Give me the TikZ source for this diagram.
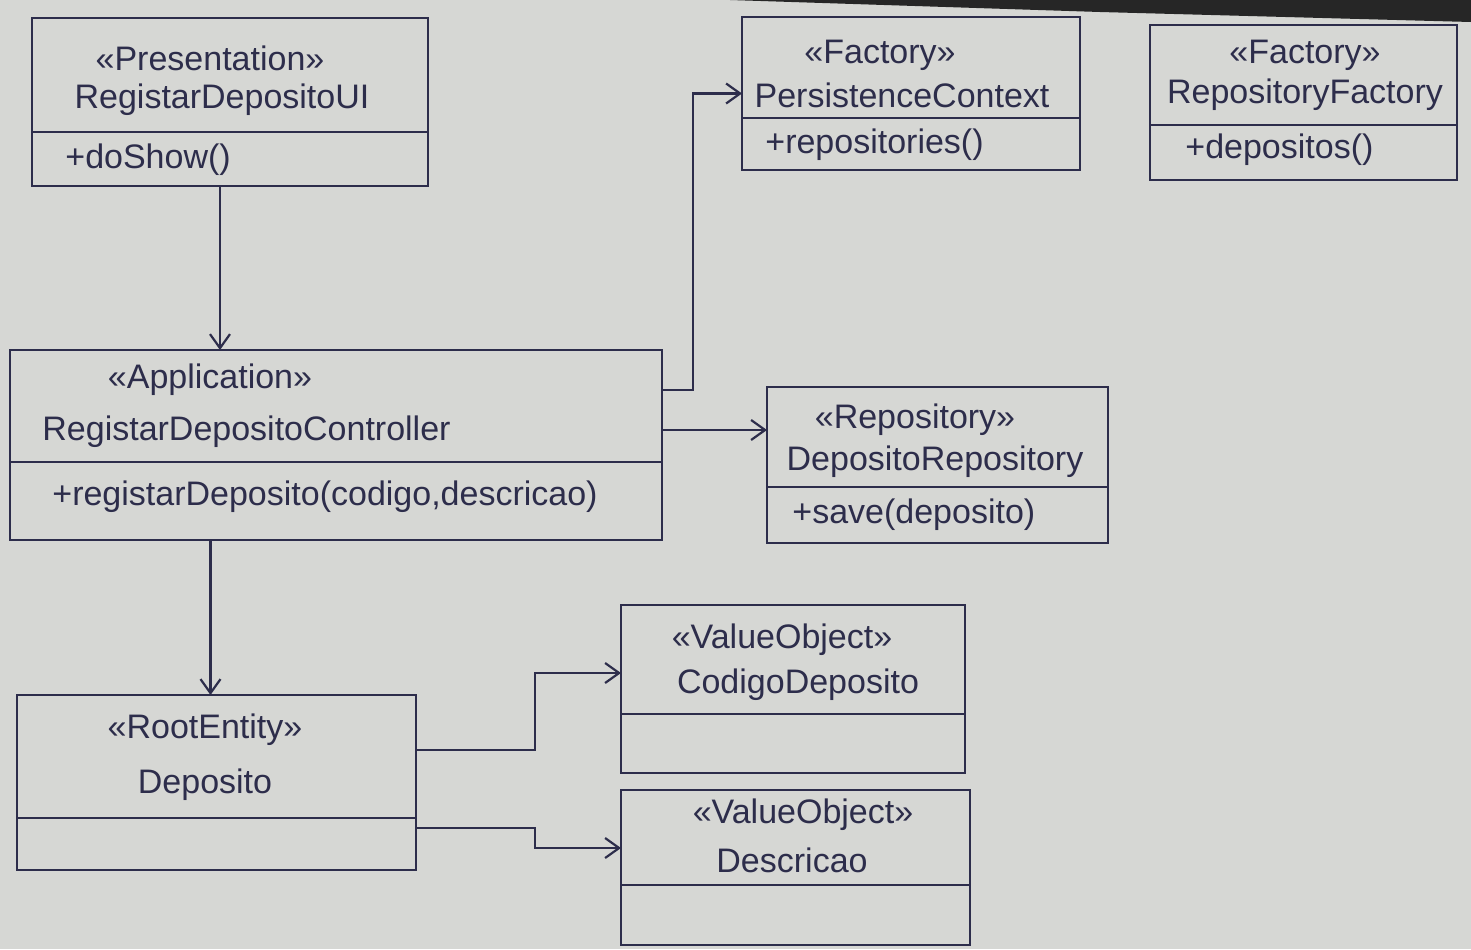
\documentclass[tikz,border=0pt]{standalone}
\usepackage{fontspec}
\setmainfont{Liberation Sans}
\usetikzlibrary{arrows.meta}
\definecolor{paper}{RGB}{214,215,212}
\definecolor{ink}{RGB}{45,45,75}
\tikzset{
  box/.style={draw=ink, line width=1.1pt, inner sep=0pt, outer sep=0pt},
  sep/.style={draw=ink, line width=1.1pt},
  conn/.style={draw=ink, line width=1.1pt, -{Straight Barb[length=7pt,width=10pt]}},
  txt/.style={text=ink, font=\fontsize{17}{20}\selectfont, inner sep=0pt},
}
\begin{document}
\begin{tikzpicture}[x=0.5pt,y=-0.5pt]
\fill[paper] (0,0) rectangle (1471,949);
\useasboundingbox (0,0) rectangle (1471,949);
\fill[black!85] (730,0) -- (1471,0) -- (1471,22) -- (1100,12) -- cycle;

% boxes
\node[box, minimum width=198pt, minimum height=84pt] (ui) at (230,102) {};
\node[box, minimum width=169pt, minimum height=76.5pt] (pc) at (911,93.5) {};
\node[box, minimum width=153.5pt, minimum height=77.5pt] (rf) at (1303.5,102.5) {};
\node[box, minimum width=326pt, minimum height=95pt] (ctrl) at (336,445) {};
\node[box, minimum width=170.5pt, minimum height=78pt] (repo) at (937.5,465) {};
\node[box, minimum width=172pt, minimum height=84pt] (cod) at (793,689) {};
\node[box, minimum width=199.5pt, minimum height=87.5pt] (dep) at (216.5,782.5) {};
\node[box, minimum width=174.5pt, minimum height=77.5pt] (desc) at (795.5,867.5) {};

% dividers
\draw[sep] (ui.west |- 0,132) -- (ui.east |- 0,132);
\draw[sep] (pc.west |- 0,118) -- (pc.east |- 0,118);
\draw[sep] (rf.west |- 0,125) -- (rf.east |- 0,125);
\draw[sep] (ctrl.west |- 0,462) -- (ctrl.east |- 0,462);
\draw[sep] (repo.west |- 0,487) -- (repo.east |- 0,487);
\draw[sep] (cod.west |- 0,714) -- (cod.east |- 0,714);
\draw[sep] (dep.west |- 0,818) -- (dep.east |- 0,818);
\draw[sep] (desc.west |- 0,885) -- (desc.east |- 0,885);

% texts
\node[txt] (uis) at (210,58) {«Presentation»};
\node[txt] (uin) at (222,100) {RegistarDepositoUI};
\node[txt, anchor=west] (uim) at (65,160) {+doShow()};

\node[txt] (pcs) at (880,55) {«Factory»};
\node[txt] (pcn) at (902,95) {PersistenceContext};
\node[txt, anchor=west] (pcm) at (765,145) {+repositories()};

\node[txt] (rfs) at (1305,55) {«Factory»};
\node[txt] (rfn) at (1305,95) {RepositoryFactory};
\node[txt, anchor=west] (rfm) at (1185,150) {+depositos()};

\node[txt] (cts) at (210,380) {«Application»};
\node[txt, anchor=west] (ctn) at (42,432) {RegistarDepositoController};
\node[txt, anchor=west] (ctm) at (52,497) {+registarDeposito(codigo,descricao)};

\node[txt] (rps) at (915,420) {«Repository»};
\node[txt] (rpn) at (935,462) {DepositoRepository};
\node[txt, anchor=west] (rpm) at (792,515) {+save(deposito)};

\node[txt] (cds) at (782,640) {«ValueObject»};
\node[txt] (cdn) at (798,685) {CodigoDeposito};

\node[txt] (dps) at (205,730) {«RootEntity»};
\node[txt] (dpn) at (205,785) {Deposito};

\node[txt] (dss) at (803,815) {«ValueObject»};
\node[txt] (dsn) at (792,860) {Descricao};

% connectors
\draw[conn] ([xshift=-5pt]ui.south) -- ([xshift=-5pt]ui.south |- ctrl.north);
\draw[conn] (ctrl.east |- 0,390) -- (693,390) |- (pc.west);
\draw[conn] (ctrl.east |- 0,430) -- (repo.west |- 0,430);
\draw[conn] ([xshift=-3pt]dep.north |- ctrl.south) -- ([xshift=-3pt]dep.north);
\draw[conn] (dep.east |- 0,750) -- (535,750) |- (cod.west |- 0,673);
\draw[conn] (dep.east |- 0,828) -- (535,828) |- (desc.west |- 0,848);
\end{tikzpicture}
\end{document}
